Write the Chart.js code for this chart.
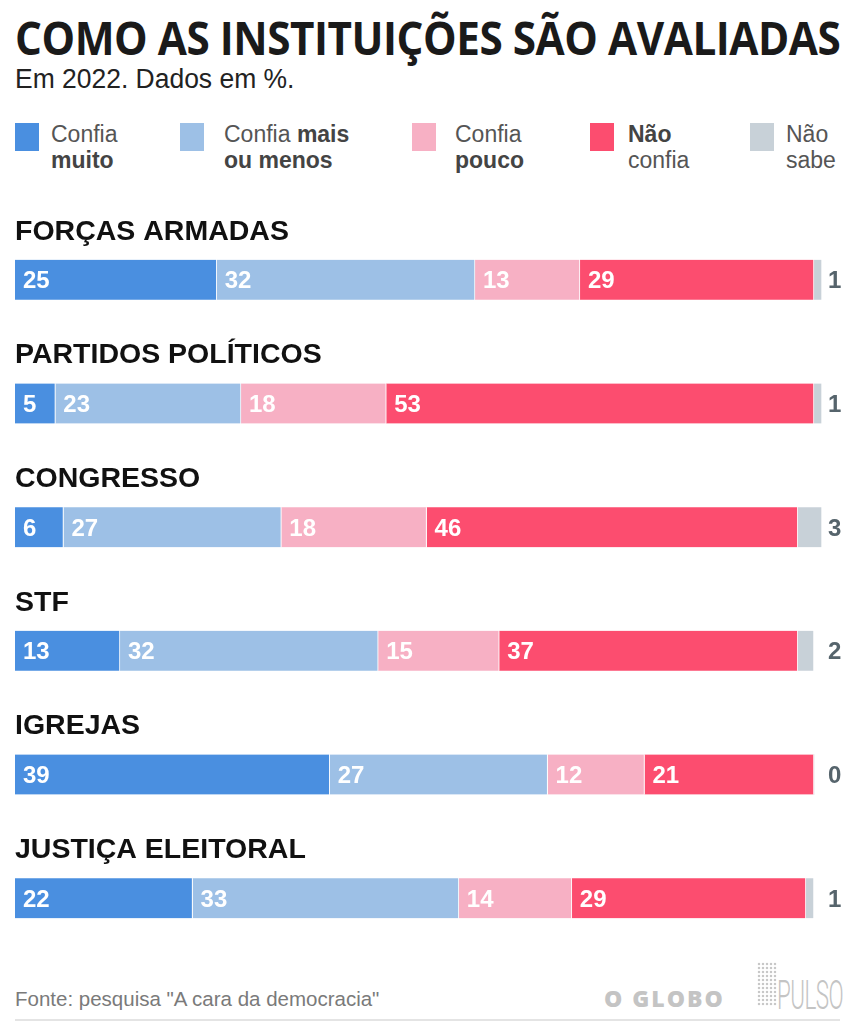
<!DOCTYPE html>
<html lang="pt-BR">
<head>
<meta charset="utf-8">
<script src="https://cdn.jsdelivr.net/npm/chart.js"></script>
<style>
  html, body { margin: 0; padding: 0; background: #fff; }
  body { width: 855px; height: 1024px; position: relative; overflow: hidden; font-family: "Liberation Sans", Arial, sans-serif; }
  #titulo { position: absolute; left: 15px; top: 6px; margin: 0; font: 700 46px "Open Sans", sans-serif; color: #1a1a1a; white-space: nowrap; transform-origin: left top; letter-spacing: -0.5px; }
  #subtitulo { position: absolute; left: 15px; top: 64px; font-size: 27px; color: #222; transform: scaleX(0.98); transform-origin: left top; }
  .leg { position: absolute; top: 121px; font-size: 23px; line-height: 26px; color: #555; }
  .leg .q { position: absolute; left: 0; top: 2px; width: 24px; height: 28px; }
  .leg .t { position: absolute; white-space: nowrap; }
  .leg b { color: #444; }
  #grafico { position: absolute; left: 0; top: 200px; width: 855px; height: 760px; }
  #fonte { position: absolute; left: 15px; top: 987px; font-size: 20.5px; color: #7a7a7a; }
  #globo { position: absolute; left: 604px; top: 982px; font: 800 23px "Open Sans", sans-serif; color: #c4c4c4; letter-spacing: 2px; }
  #pulso { position: absolute; left: 777px; top: 972px; font: 300 40px Roboto, sans-serif; color: #c4c4c4; transform: scaleX(0.56); transform-origin: left top; letter-spacing: -1px; }
  #pontos { position: absolute; left: 757px; top: 962px; width: 20px; height: 44px;
    background-image: radial-gradient(circle, #c8c8c8 1.4px, transparent 1.6px); background-size: 4px 4px; }
  #linha { position: absolute; left: 15px; top: 1019px; width: 825px; height: 2px; background: #e4e4e4; }
</style>
</head>
<body>
<h1 id="titulo">COMO AS INSTITUIÇÕES SÃO AVALIADAS</h1>
<div id="subtitulo">Em 2022. Dados em %.</div>

<div class="leg" style="left:15px"><div class="q" style="background:#4a8fe0"></div><div class="t" style="left:36px">Confia<br><b>muito</b></div></div>
<div class="leg" style="left:180px"><div class="q" style="background:#9dc0e6"></div><div class="t" style="left:44px">Confia <b>mais</b><br><b>ou menos</b></div></div>
<div class="leg" style="left:412px"><div class="q" style="background:#f7b0c4"></div><div class="t" style="left:43px">Confia<br><b>pouco</b></div></div>
<div class="leg" style="left:590px"><div class="q" style="background:#fc4d6f"></div><div class="t" style="left:38px"><b>Não</b><br>confia</div></div>
<div class="leg" style="left:750px"><div class="q" style="background:#c8d1d8"></div><div class="t" style="left:36px">Não<br>sabe</div></div>

<canvas id="grafico" width="855" height="760"></canvas>

<div id="fonte">Fonte: pesquisa "A cara da democracia"</div>
<div id="globo">O GLOBO</div>
<div id="pontos"></div>
<div id="pulso">PULSO</div>
<div id="linha"></div>

<script>
// Dados (em %)
const instituicoes = ['FORÇAS ARMADAS', 'PARTIDOS POLÍTICOS', 'CONGRESSO', 'STF', 'IGREJAS', 'JUSTIÇA ELEITORAL'];
const confiaMuito = [25, 5, 6, 13, 39, 22];
const confiaMaisOuMenos = [32, 23, 27, 32, 27, 33];
const confiaPouco = [13, 18, 18, 15, 12, 14];
const naoConfia = [29, 53, 46, 37, 21, 29];
const naoSabe = [1, 1, 3, 2, 0, 1];

const cores = ['#4a8fe0', '#9dc0e6', '#f7b0c4', '#fc4d6f', '#c8d1d8'];
const nomes = ['Confia muito', 'Confia mais ou menos', 'Confia pouco', 'Não confia', 'Não sabe'];
const series = [confiaMuito, confiaMaisOuMenos, confiaPouco, naoConfia, naoSabe];

// ajusta o título à largura
const titulo = document.getElementById('titulo');
titulo.style.transform = 'scaleX(' + (825 / titulo.scrollWidth) + ')';

// escreve nomes das instituições e os valores
const rotulos = {
    id: 'rotulos',
    afterDatasetsDraw(chart) {
        const ctx = chart.ctx;
        const eixoY = chart.scales.y;
        ctx.save();
        ctx.textBaseline = 'middle';
        ctx.textAlign = 'left';

        // nome acima de cada barra
        ctx.fillStyle = '#111';
        ctx.font = 'bold 28.5px "Liberation Sans", Arial, sans-serif';
        instituicoes.forEach((nome, i) => {
            ctx.fillText(nome, 15, eixoY.getPixelForTick(i) - 48);
        });

        ctx.font = 'bold 24px "Liberation Sans", Arial, sans-serif';
        chart.data.datasets.forEach((ds, d) => {
            const meta = chart.getDatasetMeta(d);
            meta.data.forEach((barra, i) => {
                const valor = ds.data[i];
                if (d === 4) {
                    // "Não sabe" fica fora da barra
                    ctx.fillStyle = '#56646c';
                    ctx.fillText(valor, chart.chartArea.right + 6, barra.y + 2);
                } else if (valor > 0) {
                    ctx.fillStyle = '#fff';
                    ctx.fillText(valor, barra.base + 8, barra.y + 2);
                }
            });
        });
        ctx.restore();
    }
};

const ctx = document.getElementById('grafico').getContext('2d');
new Chart(ctx, {
    type: 'bar',
    data: {
        labels: instituicoes,
        datasets: series.map((valores, d) => ({
            label: nomes[d],
            data: valores,
            backgroundColor: cores[d],
            borderColor: '#fff',
            borderWidth: { right: 1 },
            borderSkipped: false,
            barThickness: 40
        }))
    },
    options: {
        indexAxis: 'y',
        responsive: false,
        animation: false,
        layout: { padding: { left: 15, right: 33, top: 18, bottom: 0 } },
        plugins: {
            legend: { display: false },
            tooltip: { enabled: false }
        },
        scales: {
            x: { stacked: true, min: 0, max: 100, display: false },
            y: { stacked: true, display: false }
        }
    },
    plugins: [rotulos]
});
</script>
</body>
</html>
